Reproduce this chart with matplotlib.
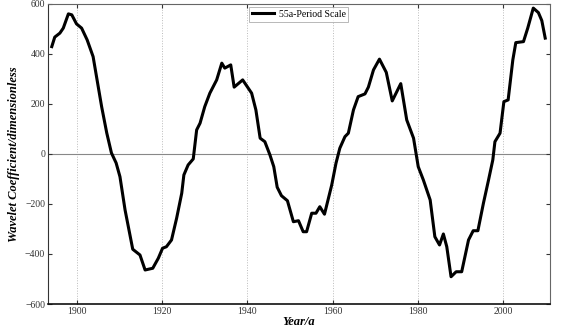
import matplotlib
matplotlib.use("Agg")
import matplotlib.pyplot as plt

YEARS = [
	1894.1, 1894.8, 1896.0, 1896.8, 1898.0, 1898.8, 1899.9, 1901.1, 1902.4, 1903.8,
	1904.6, 1905.8, 1907.0, 1908.1, 1909.2, 1910.1, 1911.3, 1913.1, 1914.8, 1916.0,
	1917.8, 1919.1, 1920.1, 1921.0, 1922.2, 1923.4, 1924.6, 1925.1, 1926.1, 1927.3,
	1928.1, 1928.9, 1930.0, 1931.2, 1932.8, 1934.0, 1934.7, 1936.1, 1936.9, 1938.9,
	1941.0, 1942.0, 1943.0, 1944.1, 1945.3, 1946.2, 1947.0, 1948.0, 1949.4, 1950.8,
	1952.0, 1953.1, 1953.9, 1955.1, 1956.1, 1957.0, 1958.1, 1959.8, 1960.8, 1961.7,
	1962.9, 1963.7, 1964.9, 1966.0, 1967.6, 1968.4, 1969.6, 1971.0, 1972.6, 1974.0,
	1976.0, 1977.4, 1979.0, 1980.1, 1981.3, 1982.9, 1984.0, 1985.1, 1986.0, 1986.8,
	1987.8, 1989.0, 1990.3, 1991.9, 1993.0, 1994.1, 1995.4, 1996.6, 1997.6, 1998.1,
	1999.3, 2000.2, 2001.2, 2002.3, 2003.0, 2004.8, 2005.8, 2007.1, 2008.3, 2009.1,
	2009.9,
]
COEFFS = [
	429, 467, 483, 503, 560, 556, 520, 503, 456, 389,
	309, 189, 84, 4, -36, -91, -224, -381, -404, -464,
	-457, -417, -377, -371, -344, -257, -157, -84, -44, -20,
	96, 123, 189, 243, 296, 363, 343, 356, 267, 296,
	243, 176, 63, 49, -4, -51, -133, -167, -187, -271,
	-267, -311, -311, -237, -237, -211, -241, -124, -37, 23,
	69, 83, 176, 229, 240, 267, 336, 379, 326, 212,
	281, 136, 63, -51, -104, -184, -331, -364, -320, -371,
	-491, -471, -471, -344, -307, -307, -197, -104, -24, 49,
	83, 209, 216, 376, 445, 449, 503, 583, 565, 533,
	463,
]
X_TICKS = [1900, 1920, 1940, 1960, 1980, 2000]
Y_TICKS = [-600, -400, -200, 0, 200, 400, 600]

plt.rcParams["font.family"] = ["Liberation Serif", "DejaVu Serif"]

fig = plt.figure(figsize=(5.64, 3.35), dpi=100)
ax = fig.add_axes([0.085, 0.0925, 0.89, 0.896])

for x in X_TICKS:
	ax.axvline(x, color="#bbbbbb", linestyle=":", linewidth=0.7, zorder=0)
ax.axhline(0, color="#888888", linewidth=0.8, zorder=0)

ax.plot(YEARS, COEFFS, color="black", linewidth=2.2, label="55a-Period Scale")

ax.set_xlim(1893.2, 2011.0)
ax.set_ylim(-600, 600)
ax.set_xticks(X_TICKS)
ax.set_yticks(Y_TICKS)
ax.tick_params(direction="in", top=True, right=True, labelsize=7, pad=2,
	length=3, width=0.8, colors="#333333", labelcolor="#333333")
for spine in ax.spines.values():
	spine.set_color("#666666")
	spine.set_linewidth(0.8)
ax.spines["bottom"].set_color("#111111")
ax.spines["bottom"].set_linewidth(1.2)
ax.spines["left"].set_color("#333333")

ax.set_xlabel("Year/a", fontsize=9, fontweight="bold", fontstyle="italic", labelpad=0)
ax.set_ylabel("Wavelet Coefficient/dimensionless", fontsize=9,
	fontweight="bold", fontstyle="italic", labelpad=0)
ax.yaxis.set_label_coords(-0.055, 0.5)

leg = ax.legend(loc="upper center", bbox_to_anchor=(0.5, 1.0), fontsize=7,
	frameon=True, fancybox=False, handlelength=2.2, borderpad=0.3,
	handletextpad=0.5, borderaxespad=0.3)
leg.get_frame().set_edgecolor("#999999")
leg.get_frame().set_linewidth(0.6)

fig.savefig("out.png", dpi=100)
